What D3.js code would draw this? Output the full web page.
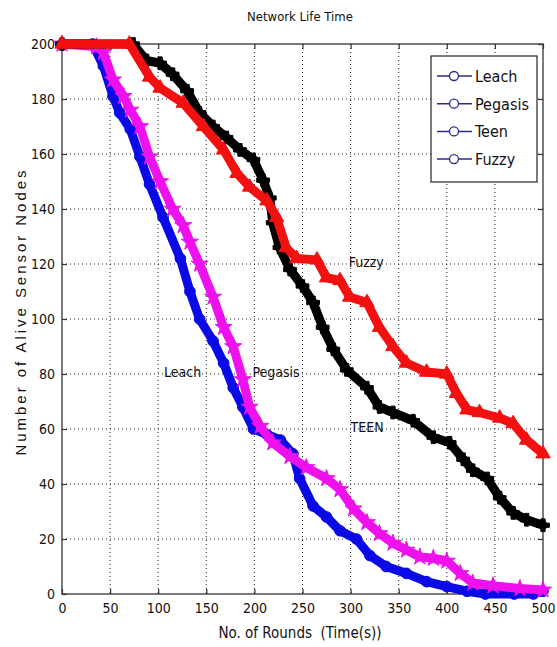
<!DOCTYPE html>
<html>
<head>
<meta charset="utf-8">
<script src="https://cdn.jsdelivr.net/npm/d3@7"></script>
<style>
  body { margin: 0; background: #fff; }
  text { font-family: "Liberation Sans Narrow", "DejaVu Sans Condensed", sans-serif; fill: #111; }
  .grid line { stroke: #222; stroke-dasharray: 1,3; stroke-width: 1; }
</style>
</head>
<body>
<div id="chart"></div>
<script>
// data
var leachRounds = [0, 32, 43, 53, 60, 71, 81, 91, 105, 123, 133, 143, 157, 168, 178, 188, 199, 213, 227, 240, 247, 261, 275, 289, 306, 320, 337, 358, 379, 400, 421, 440, 470, 490, 500]
var leachValues = [200, 200, 192, 181, 175, 169, 159, 149, 137, 122, 110, 100, 92, 84, 75, 68, 60, 58, 56, 51, 42, 32, 28, 23, 20, 14, 10, 7.5, 4.5, 2.7, 1, 0, 0, 0, 1]

var pegasisRounds = [0, 36, 43, 53, 64, 71, 81, 91, 102, 115, 126, 133, 143, 157, 168, 178, 188, 195, 206, 219, 237, 254, 275, 289, 303, 317, 330, 344, 358, 372, 386, 400, 414, 427, 448, 476, 500]
var pegasisValues = [200, 199, 197, 187, 181, 176, 170, 159, 150, 140, 134, 128, 120, 108, 97, 90, 78, 68, 61, 55, 50, 46, 42, 38, 31, 26, 22, 18.5, 16, 13.5, 13, 12, 7.5, 4, 3, 2, 1.5]

var teenRounds = [0, 74, 88, 102, 115, 130, 143, 157, 171, 185, 199, 209, 216, 219, 226, 237, 250, 261, 271, 282, 296, 317, 330, 344, 365, 386, 403, 417, 427, 442, 455, 469, 483, 500]
var teenValues = [200, 200, 194, 193, 189, 183, 175, 170, 166, 161.5, 158, 150.5, 144, 135, 126, 118, 112, 106, 97, 89, 81.5, 75, 68, 66, 63, 57, 55, 49, 45, 42, 35, 29.5, 27, 25]

var fuzzyRounds = [0, 70, 91, 102, 126, 147, 168, 182, 195, 213, 223, 233, 244, 265, 275, 289, 299, 317, 330, 344, 358, 379, 400, 410, 421, 434, 455, 469, 483, 500]
var fuzzyValues = [200, 200, 188, 184, 178.5, 170, 161.5, 153, 148, 143, 137, 126, 122, 121.5, 115, 114, 108, 106, 97, 90, 84, 80.7, 80, 73, 67, 66, 64, 62, 56, 51]

var xTicks = [0, 50, 100, 150, 200, 250, 300, 350, 400, 450, 500]
var yTicks = [0, 20, 40, 60, 80, 100, 120, 140, 160, 180, 200]
var legendNames = ["Leach", "Pegasis", "Teen", "Fuzzy"]

function draw() {
  // plot box
  const W = 557, H = 647
  const pl = 62, pr = 543, pt = 44, pb = 594

  var svg = d3.select("#chart").append("svg")
    .attr("width", W)
    .attr("height", H)

  var x = d3.scaleLinear().domain([0, 500]).range([pl, pr])
  var y = d3.scaleLinear().domain([0, 200]).range([pb, pt])

  // dotted grid
  var grid = svg.append("g").attr("class", "grid")
  grid.selectAll(".gx")
    .data(xTicks.slice(1, -1))
    .enter().append("line")
    .attr("x1", d => x(d)).attr("x2", d => x(d))
    .attr("y1", pt).attr("y2", pb)
  grid.selectAll(".gy")
    .data(yTicks.slice(1, -1))
    .enter().append("line")
    .attr("x1", pl).attr("x2", pr)
    .attr("y1", d => y(d)).attr("y2", d => y(d))

  // frame + axes (ticks inward on all sides)
  svg.append("rect")
    .attr("x", pl).attr("y", pt)
    .attr("width", pr - pl).attr("height", pb - pt)
    .attr("fill", "none").attr("stroke", "#333").attr("stroke-width", 1.3)

  function styleAxis(g) {
    g.select(".domain").remove()
    g.selectAll(".tick line").attr("stroke", "#333").attr("stroke-width", 1.2)
    g.selectAll("text").style("font-size", "14px").attr("fill", "#111")
  }

  svg.append("g")
    .attr("transform", "translate(0," + pb + ")")
    .call(d3.axisBottom(x).tickValues(xTicks).tickSize(-5).tickPadding(9))
    .call(styleAxis)
  svg.append("g")
    .attr("transform", "translate(0," + pt + ")")
    .call(d3.axisTop(x).tickValues(xTicks).tickSize(-5).tickFormat(""))
    .call(styleAxis)
  svg.append("g")
    .attr("transform", "translate(" + pl + ",0)")
    .call(d3.axisLeft(y).tickValues(yTicks).tickSize(-5).tickPadding(7))
    .call(styleAxis)
  svg.append("g")
    .attr("transform", "translate(" + pr + ",0)")
    .call(d3.axisRight(y).tickValues(yTicks).tickSize(-5).tickFormat(""))
    .call(styleAxis)

  // series
  var series = [
    {name: "Leach", r: leachRounds, v: leachValues, color: "#0a0ae6", sym: d3.symbolCircle},
    {name: "Pegasis", r: pegasisRounds, v: pegasisValues, color: "#ee11ee", sym: d3.symbolStar},
    {name: "Teen", r: teenRounds, v: teenValues, color: "#000000", sym: d3.symbolCross},
    {name: "Fuzzy", r: fuzzyRounds, v: fuzzyValues, color: "#f21010", sym: d3.symbolTriangle}
  ]

  var line = d3.line()
    .x(d => x(d[0]))
    .y(d => y(d[1]))

  series.forEach(function(s) {
    var pts = s.r.map((r, i) => [r, s.v[i]])
    svg.append("path")
      .datum(pts)
      .attr("fill", "none")
      .attr("stroke", s.color)
      .attr("stroke-width", 9)
      .attr("stroke-linejoin", "round")
      .attr("stroke-linecap", "round")
      .attr("d", line)
    svg.selectAll(null)
      .data(pts)
      .enter().append("path")
      .attr("transform", d => "translate(" + x(d[0]) + "," + y(d[1]) + ")")
      .attr("d", d3.symbol().type(s.sym).size(90))
      .attr("fill", s.color)
      .attr("stroke", s.color)
  })

  // labels inside the plot
  var inLabels = [
    {t: "Fuzzy", r: 298, v: 119},
    {t: "Leach", r: 106, v: 79},
    {t: "Pegasis", r: 198, v: 79},
    {t: "TEEN", r: 300, v: 59}
  ]
  svg.selectAll(".inl")
    .data(inLabels)
    .enter().append("text")
    .attr("x", d => x(d.r))
    .attr("y", d => y(d.v))
    .style("font-size", "14px")
    .text(d => d.t)

  // legend
  var lg = svg.append("g")
  lg.append("rect")
    .attr("x", 431).attr("y", 56)
    .attr("width", 106).attr("height", 126)
    .attr("fill", "#fff").attr("stroke", "#222").attr("stroke-width", 1.2)
  legendNames.forEach(function(n, i) {
    var ly = 76 + i * 27.7
    lg.append("line")
      .attr("x1", 437).attr("x2", 472)
      .attr("y1", ly).attr("y2", ly)
      .attr("stroke", "#2b2b8c").attr("stroke-width", 1.5)
    lg.append("circle")
      .attr("cx", 454).attr("cy", ly).attr("r", 4.5)
      .attr("fill", "#fff").attr("stroke", "#2b2b8c").attr("stroke-width", 1.3)
    lg.append("text")
      .attr("x", 475).attr("y", ly + 6)
      .style("font-size", "16px")
      .text(n)
  })

  // titles
  svg.append("text")
    .attr("x", 300).attr("y", 21)
    .attr("text-anchor", "middle")
    .style("font-size", "13px")
    .text("Network Life Time")

  svg.append("text")
    .attr("x", 300).attr("y", 638)
    .attr("text-anchor", "middle")
    .style("font-size", "15px")
    .style("white-space", "pre")
    .text("No. of Rounds  (Time(s))")

  svg.append("text")
    .attr("transform", "translate(26,313) rotate(-90)")
    .attr("text-anchor", "middle")
    .attr("textLength", 285)
    .attr("lengthAdjust", "spacing")
    .style("font-family", "'Liberation Sans', Arial, sans-serif")
    .style("font-size", "15px")
    .text("Number of Alive Sensor Nodes")
}

draw()
</script>
</body>
</html>
